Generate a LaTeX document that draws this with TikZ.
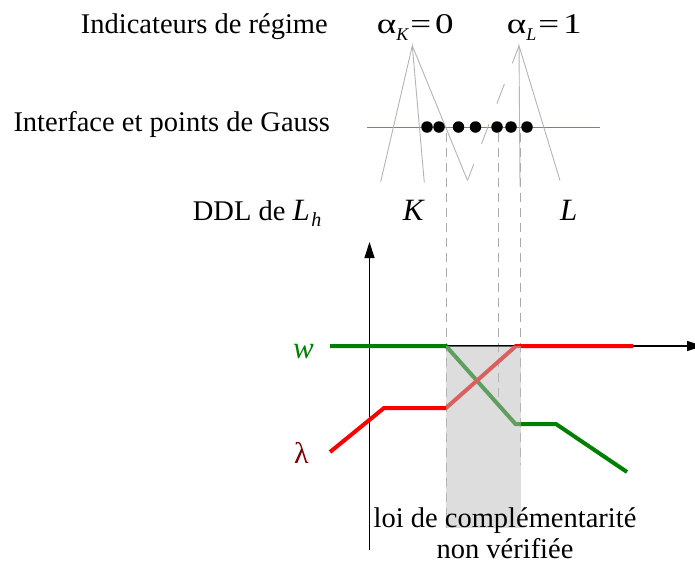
\documentclass[tikz,border=0pt]{standalone}
\usepackage{fontspec}
\setmainfont{Liberation Serif}
\newfontfamily\widefont[FakeStretch=1.3]{Liberation Serif}
\usetikzlibrary{arrows.meta}
\definecolor{thinc}{HTML}{B4B4B4}
\definecolor{guidec}{HTML}{AAAAAA}
\definecolor{bluec}{HTML}{7070FF}
\definecolor{wgreen}{HTML}{008000}
\definecolor{lamred}{HTML}{800000}
\definecolor{overc}{RGB}{188,188,188}
\tikzset{
  lab/.style={inner sep=0pt, anchor=base west, font=\fontsize{28.5}{32}\selectfont},
  labc/.style={inner sep=0pt, anchor=base, font=\fontsize{28.5}{32}\selectfont},
  mathlab/.style={inner sep=0pt, anchor=base west, font=\fontsize{31}{34}\selectfont\itshape},
  thinline/.style={draw=thinc, line width=0.9pt},
  guide/.style={draw=guidec, line width=0.9pt, dash pattern=on 9pt off 6pt},
  longdash/.style={draw=thinc, line width=0.9pt, dash pattern=on 21pt off 22pt, dash phase=2pt},
  curve/.style={line width=4pt},
  axis/.style={line width=1.3pt, -{Triangle[length=16pt,width=10pt]}},
  gdot/.style={circle, fill=black, inner sep=0pt, minimum size=11.5pt},
}
\begin{document}
\begin{tikzpicture}[x=1pt,y=-1pt]
\useasboundingbox (0,0) rectangle (695,568);

% top labels
\node[lab] (ind) at (80.7,33.3) {Indicateurs de régime};
\node[lab] (aK) at (376.7,33.3) {\widefont α\raisebox{-7pt}{\rmfamily\fontsize{18}{18}\selectfont\itshape K}\kern2pt=\kern4pt0};
\node[lab] (aL) at (506.7,33.3) {\widefont α\raisebox{-7pt}{\rmfamily\fontsize{18}{18}\selectfont\itshape L}\kern2pt=\kern4pt1};
\node[lab] (itf) at (13.3,131.7) {Interface et points de Gauss};
\node[lab] (ddl) at (192.7,220) {DDL de {\fontsize{31}{31}\selectfont\itshape L}\kern1.5pt\raisebox{-6.7pt}{\fontsize{20}{20}\selectfont\itshape h}};
\node[mathlab] (K) at (402.7,220) {K};
\node[mathlab] (L) at (560,220) {L};

% apex and leg coordinates
\coordinate (apK) at (412.3,45.7);
\coordinate (apL) at (519,45.7);
\coordinate (k1) at (380.7,181.7);
\coordinate (k2) at (424.3,182.7);
\coordinate (vb) at (467.5,180.5);
\coordinate (l1) at (520,186.7);
\coordinate (l2) at (560,180.5);

% interface line
\coordinate (ia) at (367,127);
\coordinate (ib) at (600,127);
\draw[draw=bluec, line width=1pt] (ia) -- (ib);

% indicator lines
\draw[thinline] (k1) -- (apK) -- (k2);
\draw[thinline] (apK) -- (vb);
\draw[longdash] (apL) -- (vb);
\draw[thinline] (l1) -- (apL) -- (l2);

% Gauss points
\foreach \i/\x in {1/427,2/439,3/458.5,4/475.5,5/497,6/511,7/527}
  \node[gdot] (g\i) at (\x,127) {};

% dashed guides
\coordinate (d1t) at (446,133);   \coordinate (d1b) at (446,528);
\coordinate (d2t) at (498.5,133); \coordinate (d2b) at (498.5,405);
\coordinate (d3t) at (520.3,133); \coordinate (d3b) at (520.3,465);
\draw[guide] (d1t) -- (d1b);
\draw[guide] (d2t) -- (d2b);
\draw[guide] (d3t) -- (d3b);

% axes
\coordinate (vy0) at (369.5,550);
\coordinate (vy1) at (369.5,242);
\coordinate (hx0) at (330,346);
\coordinate (hx1) at (703,346);
\draw[axis] (vy0) -- (vy1);
\draw[axis] (hx0) -- (hx1);

% curves
\coordinate (w0) at (330,346);
\coordinate (w1) at (446,346);
\coordinate (w2) at (515.5,424);
\coordinate (w3) at (556,424);
\coordinate (w4) at (627,472);
\draw[curve, wgreen] (w0) -- (w1) -- (w2) -- (w3) -- (w4);
\coordinate (r0) at (330,452);
\coordinate (r1) at (384,408);
\coordinate (r2) at (446,408);
\coordinate (r3) at (516,346);
\coordinate (r4) at (633,346);
\draw[curve, red] (r0) -- (r1) -- (r2) -- (r3) -- (r4);

% shaded region
\coordinate (bx0) at (446,346);
\coordinate (bx1) at (520.5,528);
\fill[overc, fill opacity=0.51] (bx0) rectangle (bx1);

% curve labels
\node[mathlab, text=wgreen] (wl) at (293,358) {w};
\node[inner sep=0pt, anchor=base west, font=\fontsize{30}{32}\selectfont, text=lamred] (ll) at (294,463) {λ};

% bottom text
\node[labc] (loi1) at (505,527) {loi de complémentarité};
\node[labc] (loi2) at (505,558) {non vérifiée};
\end{tikzpicture}
\end{document}
